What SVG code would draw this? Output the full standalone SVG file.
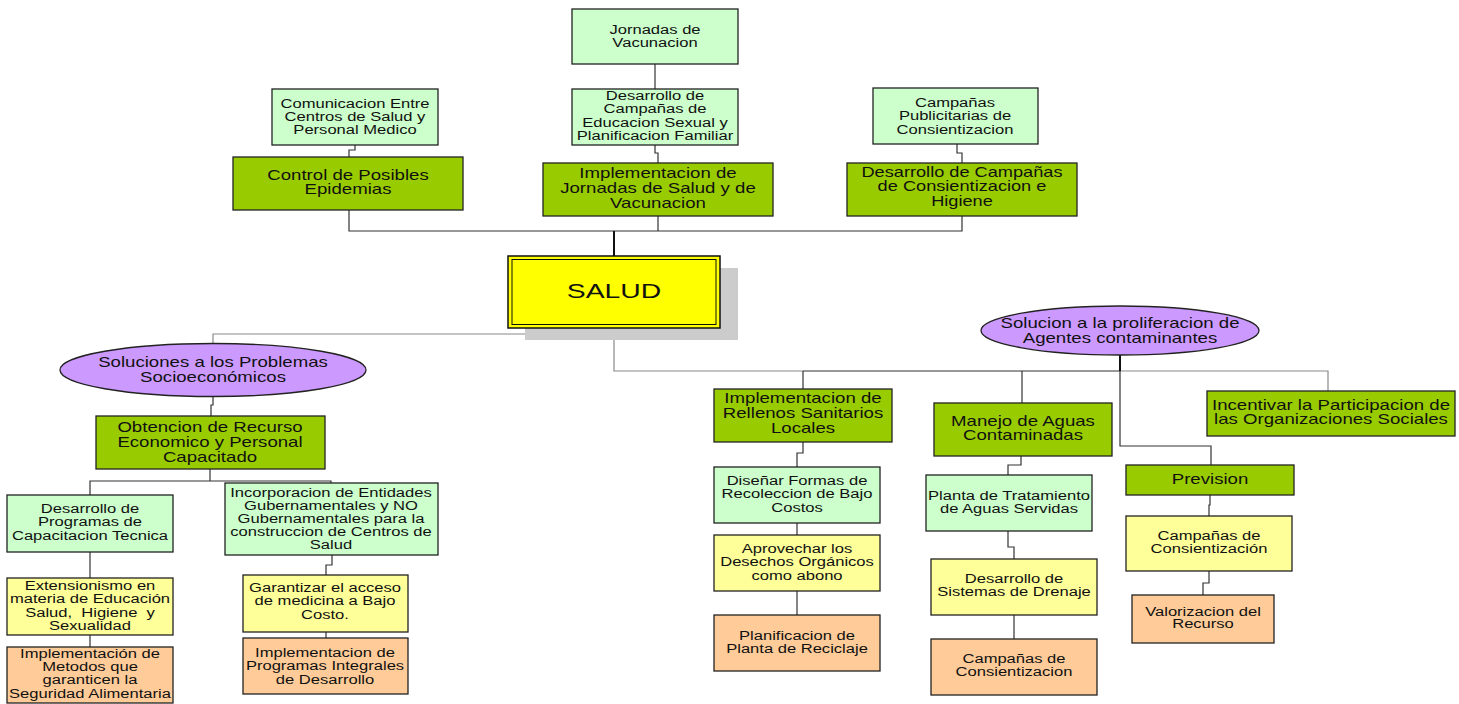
<svg xmlns="http://www.w3.org/2000/svg" width="1459" height="704" viewBox="0 0 1459 704">
  <style>
    .c { fill: none; stroke: #333; stroke-width: 1.2; }
    .g { stroke: #8a8a8a; }
    .k { stroke: #111; stroke-width: 2; }
    .b { stroke: #222; stroke-width: 1.3; }
    .lg { fill: #CCFFCC; }
    .dg { fill: #99CC00; }
    .yl { fill: #FFFF99; }
    .or { fill: #FFCC99; }
    .pu { fill: #CC99FF; }
    text { font-family: "Liberation Sans", Arial, sans-serif; fill: #111; text-anchor: middle; }
    .s { font-size: 12px; }
    .m { font-size: 14px; }
    .l { font-size: 21px; }
  </style>

  <!-- connectors -->
  <g id="connectors">
    <path class="c" d="M655,64 V89"/>
    <path class="c" d="M655,145 V153 H658 V163"/>
    <path class="c" d="M355,145 V150 H349 V157"/>
    <path class="c" d="M957,144 V153 H962 V163"/>
    <path class="c" d="M349,210 V231 H962 V216"/>
    <path class="c" d="M658,216 V231"/>
    <path class="c k" d="M614,231 V256"/>

    <path class="c g" d="M614,328 V334 H213 V343"/>
    <path class="c g" d="M614,334 V371 H803"/>
    <path class="c" d="M803,371 H1120"/>
    <path class="c g" d="M1120,371 H1328 V391"/>
    <path class="c" d="M803,371 V389"/>
    <path class="c" d="M1022,371 V403"/>
    <path class="c k" d="M1120,355 V371"/>
    <path class="c" d="M1120,371 V446 H1211 V465"/>

    <path class="c" d="M213,396 V405 H211 V416"/>
    <path class="c" d="M210,469 V481"/>
    <path class="c" d="M90,495 V481 H331 V483"/>
    <path class="c" d="M90,552 V578"/>
    <path class="c" d="M90,635 V647"/>
    <path class="c" d="M332,555 V565 H326 V575"/>
    <path class="c" d="M326,632 V638"/>

    <path class="c" d="M803,442 V453 H797 V467"/>
    <path class="c" d="M797,523 V535"/>
    <path class="c" d="M797,591 V615"/>
    <path class="c" d="M1021,456 V465 H1008 V475"/>
    <path class="c" d="M1008,531 V547 H1014 V559"/>
    <path class="c" d="M1014,615 V639"/>
    <path class="c" d="M1210,495 V505 H1209 V516"/>
    <path class="c" d="M1209,571 V583 H1203 V595"/>
  </g>

  <!-- upper branch -->
  <g id="jornadas-vacunacion">
    <rect class="b lg" x="572" y="9" width="166" height="55"/>
    <text class="s" transform="translate(655,34) scale(1.38,1)"><tspan x="0">Jornadas de</tspan><tspan x="0" dy="13.3">Vacunacion</tspan></text>
  </g>
  <g id="educacion-sexual">
    <rect class="b lg" x="572" y="89" width="166" height="56"/>
    <text class="s" transform="translate(655,100) scale(1.38,1)"><tspan x="0">Desarrollo de</tspan><tspan x="0" dy="13.3">Campañas de</tspan><tspan x="0" dy="13.3">Educacion Sexual y</tspan><tspan x="0" dy="13.3">Planificacion Familiar</tspan></text>
  </g>
  <g id="comunicacion">
    <rect class="b lg" x="272" y="89" width="166" height="56"/>
    <text class="s" transform="translate(355,107.5) scale(1.38,1)"><tspan x="0">Comunicacion Entre</tspan><tspan x="0" dy="13.3">Centros de Salud y</tspan><tspan x="0" dy="13.3">Personal Medico</tspan></text>
  </g>
  <g id="control-epidemias">
    <rect class="b dg" x="233" y="157" width="230" height="53"/>
    <text class="m" transform="translate(348,180) scale(1.33,1)"><tspan x="0">Control de Posibles</tspan><tspan x="0" dy="14.5">Epidemias</tspan></text>
  </g>
  <g id="jornadas-salud">
    <rect class="b dg" x="543" y="163" width="230" height="53"/>
    <text class="m" transform="translate(658,178) scale(1.33,1)"><tspan x="0">Implementacion de</tspan><tspan x="0" dy="15">Jornadas de Salud y de</tspan><tspan x="0" dy="15">Vacunacion</tspan></text>
  </g>
  <g id="campanas-publicitarias">
    <rect class="b lg" x="873" y="88" width="165" height="56"/>
    <text class="s" transform="translate(955,107) scale(1.38,1)"><tspan x="0">Campañas</tspan><tspan x="0" dy="13.3">Publicitarias de</tspan><tspan x="0" dy="13.3">Consientizacion</tspan></text>
  </g>
  <g id="campanas-higiene">
    <rect class="b dg" x="847" y="163" width="230" height="53"/>
    <text class="m" transform="translate(962,177) scale(1.3,1)"><tspan x="0">Desarrollo de Campañas</tspan><tspan x="0" dy="14.5">de Consientizacion e</tspan><tspan x="0" dy="14.5">Higiene</tspan></text>
  </g>

  <!-- central node -->
  <g id="salud">
    <rect x="525" y="268" width="213" height="72" fill="#CCCCCC"/>
    <rect x="508" y="256" width="212" height="72" fill="#FFFF00" stroke="#111" stroke-width="1.5"/>
    <rect x="512" y="259.5" width="204" height="65" fill="none" stroke="#111" stroke-width="1"/>
    <text class="l" transform="translate(614,298) scale(1.35,1)" x="0">SALUD</text>
  </g>

  <!-- socioeconomic branch -->
  <g id="soluciones-socioeconomicos">
    <ellipse class="b pu" cx="213" cy="370" rx="153" ry="26.5"/>
    <text class="m" transform="translate(213,367) scale(1.33,1)"><tspan x="0">Soluciones a los Problemas</tspan><tspan x="0" dy="15">Socioeconómicos</tspan></text>
  </g>
  <g id="recurso-economico">
    <rect class="b dg" x="96" y="416" width="229" height="53"/>
    <text class="m" transform="translate(210,432) scale(1.33,1)"><tspan x="0">Obtencion de Recurso</tspan><tspan x="0" dy="15">Economico y Personal</tspan><tspan x="0" dy="15">Capacitado</tspan></text>
  </g>
  <g id="capacitacion-tecnica">
    <rect class="b lg" x="7" y="495" width="166" height="57"/>
    <text class="s" transform="translate(90,513) scale(1.38,1)"><tspan x="0">Desarrollo de</tspan><tspan x="0" dy="13.3">Programas de</tspan><tspan x="0" dy="13.3">Capacitacion Tecnica</tspan></text>
  </g>
  <g id="entidades-gubernamentales">
    <rect class="b lg" x="225" y="483" width="213" height="72"/>
    <text class="s" transform="translate(331,497) scale(1.38,1)"><tspan x="0">Incorporacion de Entidades</tspan><tspan x="0" dy="13">Gubernamentales y NO</tspan><tspan x="0" dy="13">Gubernamentales para la</tspan><tspan x="0" dy="13">construccion de Centros de</tspan><tspan x="0" dy="13">Salud</tspan></text>
  </g>
  <g id="extensionismo">
    <rect class="b yl" x="7" y="578" width="166" height="57"/>
    <text class="s" transform="translate(90,590) scale(1.38,1)"><tspan x="0">Extensionismo en</tspan><tspan x="0" dy="13.3">materia de Educación</tspan><tspan x="0" dy="13.3">Salud,&#160; Higiene&#160; y</tspan><tspan x="0" dy="13.3">Sexualidad</tspan></text>
  </g>
  <g id="seguridad-alimentaria">
    <rect class="b or" x="7" y="647" width="166" height="56"/>
    <text class="s" transform="translate(90,657.5) scale(1.38,1)"><tspan x="0">Implementación de</tspan><tspan x="0" dy="13.5">Metodos que</tspan><tspan x="0" dy="13.5">garanticen la</tspan><tspan x="0" dy="13.5">Seguridad Alimentaria</tspan></text>
  </g>
  <g id="medicina-bajo-costo">
    <rect class="b yl" x="243" y="575" width="165" height="57"/>
    <text class="s" transform="translate(325,592) scale(1.38,1)"><tspan x="0">Garantizar el acceso</tspan><tspan x="0" dy="13.5">de medicina a Bajo</tspan><tspan x="0" dy="13.5">Costo.</tspan></text>
  </g>
  <g id="programas-integrales">
    <rect class="b or" x="243" y="638" width="165" height="56"/>
    <text class="s" transform="translate(325,657) scale(1.38,1)"><tspan x="0">Implementacion de</tspan><tspan x="0" dy="13.3">Programas Integrales</tspan><tspan x="0" dy="13.3">de Desarrollo</tspan></text>
  </g>

  <!-- contaminants branch -->
  <g id="agentes-contaminantes">
    <ellipse class="b pu" cx="1120" cy="330.5" rx="139" ry="24.5"/>
    <text class="m" transform="translate(1120,328) scale(1.33,1)"><tspan x="0">Solucion a la proliferacion de</tspan><tspan x="0" dy="15">Agentes contaminantes</tspan></text>
  </g>
  <g id="rellenos-sanitarios">
    <rect class="b dg" x="714" y="389" width="178" height="53"/>
    <text class="m" transform="translate(803,403) scale(1.33,1)"><tspan x="0">Implementacion de</tspan><tspan x="0" dy="15">Rellenos Sanitarios</tspan><tspan x="0" dy="15">Locales</tspan></text>
  </g>
  <g id="aguas-contaminadas">
    <rect class="b dg" x="934" y="403" width="178" height="53"/>
    <text class="m" transform="translate(1023,426) scale(1.33,1)"><tspan x="0">Manejo de Aguas</tspan><tspan x="0" dy="14.5">Contaminadas</tspan></text>
  </g>
  <g id="organizaciones-sociales">
    <rect class="b dg" x="1207" y="391" width="248" height="45"/>
    <text class="m" transform="translate(1331,410) scale(1.33,1)"><tspan x="0">Incentivar la Participacion de</tspan><tspan x="0" dy="14.5">las Organizaciones Sociales</tspan></text>
  </g>
  <g id="recoleccion">
    <rect class="b lg" x="714" y="467" width="166" height="56"/>
    <text class="s" transform="translate(797,485) scale(1.38,1)"><tspan x="0">Diseñar Formas de</tspan><tspan x="0" dy="13.3">Recoleccion de Bajo</tspan><tspan x="0" dy="13.3">Costos</tspan></text>
  </g>
  <g id="desechos-organicos">
    <rect class="b yl" x="714" y="535" width="166" height="56"/>
    <text class="s" transform="translate(797,553) scale(1.38,1)"><tspan x="0">Aprovechar los</tspan><tspan x="0" dy="13.3">Desechos Orgánicos</tspan><tspan x="0" dy="13.3">como abono</tspan></text>
  </g>
  <g id="planta-reciclaje">
    <rect class="b or" x="714" y="615" width="166" height="56"/>
    <text class="s" transform="translate(797,640) scale(1.38,1)"><tspan x="0">Planificacion de</tspan><tspan x="0" dy="13.3">Planta de Reciclaje</tspan></text>
  </g>
  <g id="planta-tratamiento">
    <rect class="b lg" x="926" y="475" width="166" height="56"/>
    <text class="s" transform="translate(1009,500) scale(1.38,1)"><tspan x="0">Planta de Tratamiento</tspan><tspan x="0" dy="13.3">de Aguas Servidas</tspan></text>
  </g>
  <g id="sistemas-drenaje">
    <rect class="b yl" x="931" y="559" width="166" height="56"/>
    <text class="s" transform="translate(1014,583) scale(1.38,1)"><tspan x="0">Desarrollo de</tspan><tspan x="0" dy="13.5">Sistemas de Drenaje</tspan></text>
  </g>
  <g id="campanas-consientizacion-aguas">
    <rect class="b or" x="931" y="639" width="166" height="56"/>
    <text class="s" transform="translate(1014,663) scale(1.38,1)"><tspan x="0">Campañas de</tspan><tspan x="0" dy="13.5">Consientizacion</tspan></text>
  </g>
  <g id="prevision">
    <rect class="b dg" x="1126" y="465" width="168" height="30"/>
    <text class="m" transform="translate(1210,484) scale(1.33,1)" x="0">Prevision</text>
  </g>
  <g id="campanas-consientizacion-prevision">
    <rect class="b yl" x="1126" y="516" width="166" height="55"/>
    <text class="s" transform="translate(1209,540) scale(1.38,1)"><tspan x="0">Campañas de</tspan><tspan x="0" dy="13.3">Consientización</tspan></text>
  </g>
  <g id="valorizacion-recurso">
    <rect class="b or" x="1132" y="595" width="142" height="48"/>
    <text class="s" transform="translate(1203,616) scale(1.38,1)"><tspan x="0">Valorizacion del</tspan><tspan x="0" dy="12.5">Recurso</tspan></text>
  </g>
</svg>
